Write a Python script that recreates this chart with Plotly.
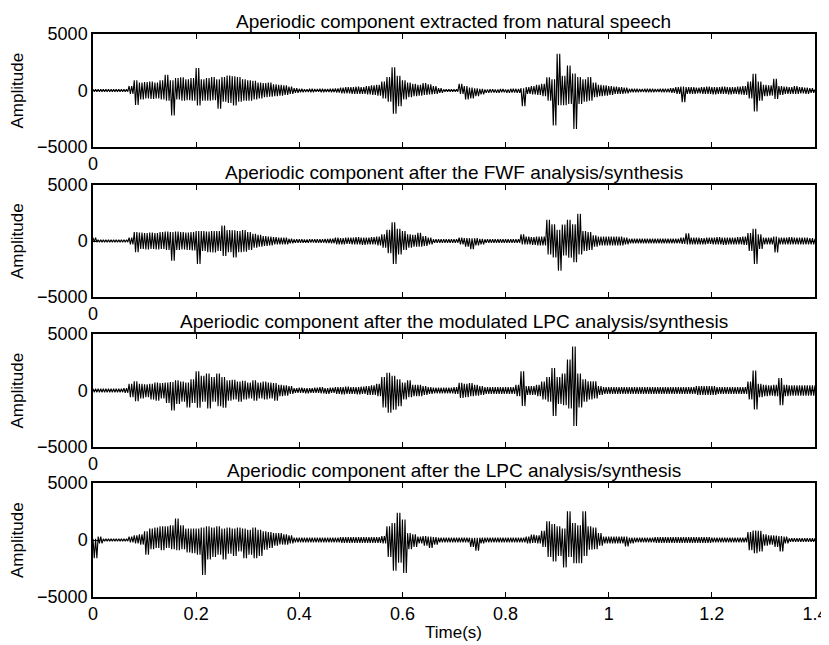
import plotly.graph_objects as go

# ---- data: per-10 ms envelope (max / min amplitude) ----
time_step = 0.01
n_bins = 141  # 0.00 .. 1.40 s

titles = [
    "Aperiodic component extracted from natural speech",
    "Aperiodic component after the FWF analysis/synthesis",
    "Aperiodic component after the modulated LPC analysis/synthesis",
    "Aperiodic component after the LPC analysis/synthesis",
]

natural_hi = [100, 100, 100, 100, 100, 100, 100,
              400, 900, 700, 750, 800, 700, 900, 1390, 900, 1100, 1180, 1000, 1100, 2000, 1000, 1100, 1200,
              1000, 1200, 1330, 1270, 1200, 1000, 900, 850, 700, 650, 700, 550, 500, 450, 350, 200,
              150, 120, 150, 130, 150, 140, 160, 180,
              250, 300, 300, 350, 300, 400, 450, 500, 800, 1200, 2060, 1300, 900, 700, 600, 500, 650, 550, 400, 200,
              100, 100, 120,
              600, 400, 250, 200, 150,
              100, 120, 100, 130, 100, 150, 150,
              200, 300, 400, 500, 600, 1180, 1000, 3250, 1300, 2200, 1500, 1200, 1000, 1200, 700, 500, 450, 400, 350, 300, 250,
              150, 150, 130, 150, 150, 140, 150, 160, 200,
              300, 350, 300,
              300, 250, 300, 350, 300, 300, 350, 300, 300, 350, 400,
              800, 1470, 800, 500, 450, 1030, 400, 350, 300, 400, 300, 250, 200, 100]
natural_lo = [-100, -100, -100, -100, -100, -100, -100,
              -300, -1270, -800, -700, -750, -700, -800, -900, -2200, -800, -900, -850, -900, -1330, -900, -900, -850,
              -1620, -1000, -1100, -1330, -1000, -900, -900, -800, -700, -600, -550, -500, -450, -400, -300, -200,
              -150, -130, -150, -120, -150, -140, -150, -180,
              -250, -250, -300, -300, -300, -350, -400, -450, -700, -1000, -2060, -1400, -800, -600, -500, -450, -400, -350, -300, -200,
              -100, -100, -100,
              -300, -800, -700, -500, -350,
              -200, -180, -200, -150, -200, -180, -200,
              -1400, -300, -350, -400, -500, -900, -3100, -1300, -1300, -1200, -3400, -1200, -1000, -900, -600, -500, -450, -400, -300, -300, -250,
              -150, -150, -140, -150, -150, -130, -150, -160, -200,
              -300, -1030, -300,
              -300, -250, -300, -300, -350, -300, -300, -350, -300, -350, -400,
              -700, -1860, -900, -500, -450, -740, -400, -300, -300, -300, -250, -300, -200, -100]

fwf_hi = [300, 100, 100, 100, 100, 100, 120,
          300, 800, 750, 700, 750, 700, 800, 850, 800, 850, 800, 750, 800, 880, 880, 850, 880, 900, 1380, 970,
          950, 900, 970, 800, 650, 550, 450, 400, 350, 300, 300,
          200, 150, 150, 130, 150, 150, 150, 180, 200,
          300, 250, 300, 300, 350, 300, 300, 350, 400,
          600, 1000, 1680, 1100, 900, 600, 550, 740, 450, 300,
          150, 150, 150, 150, 150,
          300, 250, 250, 250, 200,
          150, 150, 150, 150, 150, 150, 150,
          600, 400, 350, 400, 400, 1900, 1500, 1000, 1470, 1900, 1500, 2440, 880, 800, 500, 400, 400, 400, 400, 400, 300,
          200, 200, 200, 200, 200, 200, 200, 200, 200, 200,
          300, 680,
          300, 300, 250, 300, 300, 350, 300, 300, 300, 350, 400,
          700, 1100, 600, 300, 300, 400,
          300, 300, 350, 300, 300, 300, 250,
          200]
fwf_lo = [-100, -100, -100, -100, -100, -100, -100,
          -300, -1000, -700, -750, -700, -750, -700, -800, -1760, -800, -750, -800, -850, -2060, -900, -1000, -1030, -900, -1330, -1000,
          -1470, -1000, -950, -800, -600, -500, -450, -400, -300, -300, -300,
          -200, -150, -150, -150, -130, -150, -150, -180, -200,
          -300, -300, -250, -300, -300, -350, -300, -300, -400,
          -600, -1100, -2060, -1200, -800, -600, -500, -500, -450, -300,
          -150, -150, -150, -150, -150,
          -300, -500, -740, -400, -300,
          -150, -150, -150, -150, -150, -150, -150,
          -300, -300, -350, -400, -400, -1200, -1470, -2650, -1300, -1500, -1900, -1200, -880, -800, -500, -400, -400, -400, -400, -400, -300,
          -200, -200, -200, -200, -200, -200, -200, -200, -200, -200,
          -250, -300,
          -300, -300, -300, -250, -300, -300, -350, -300, -300, -300, -350,
          -900, -2060, -700, -300, -300, -1030,
          -300, -300, -300, -300, -300, -300, -300,
          -200]

mlpc_hi = [150, 150, 150, 150, 150, 150,
           200, 600, 820, 600, 550, 600, 700, 650, 700, 750, 900, 800, 700, 1000, 1700, 1300, 1500, 1200, 1500, 1200,
           900, 950, 800, 850, 700, 900, 700, 800, 700, 650, 500, 450, 400,
           200, 250, 200, 200, 250, 300, 200, 250,
           300, 300, 350, 300, 300, 350,
           400, 450, 600, 1200, 1560, 1300, 1000, 700, 900, 500, 500, 400, 300,
           250, 250, 250, 250,
           300, 680, 600, 650, 500, 400,
           300, 300, 300, 300, 300, 300,
           500, 1700, 400, 400, 500, 800, 1200, 2000, 1200, 1500, 2740, 3900, 1500, 1000, 820, 820, 400,
           300, 300, 300, 300, 300, 300, 300, 300, 300, 300, 300, 300, 300, 300, 300, 300, 300, 300,
           400, 400, 400, 400,
           300, 300, 300, 300, 300, 300,
           800, 1760, 600, 500, 450, 500, 1100, 500,
           450, 450, 450, 450, 450, 450]
mlpc_lo = [-150, -150, -150, -150, -150, -150,
           -200, -600, -940, -700, -600, -800, -900, -700, -1100, -1760, -1200, -1000, -1500, -1100, -1530, -1000, -1600, -1000, -1400, -1530,
           -900, -800, -1000, -800, -700, -900, -700, -800, -700, -900, -500, -450, -300,
           -200, -200, -250, -200, -200, -250, -300, -200,
           -300, -350, -300, -300, -350, -300,
           -400, -400, -500, -1500, -1970, -1700, -1400, -800, -600, -500, -500, -400, -300,
           -250, -250, -250, -250,
           -300, -650, -600, -500, -450, -400,
           -300, -300, -300, -300, -300, -300,
           -500, -1380, -400, -400, -500, -800, -1000, -2260, -1200, -1300, -1600, -3150, -1500, -1000, -800, -700, -400,
           -300, -300, -300, -300, -300, -300, -300, -300, -300, -300, -300, -300, -300, -300, -300, -300, -300, -300,
           -400, -400, -400, -400,
           -300, -300, -300, -300, -300, -300,
           -800, -1680, -600, -500, -450, -500, -1300, -500,
           -450, -450, -450, -450, -450, -450]

lpc_hi = [100, 300,
          100, 100, 100, 100, 100,
          300, 400, 500, 760, 1000, 1100, 1200, 1200, 1300, 1880, 1300, 1000, 1000, 1000, 1100, 1200, 1100, 1200,
          1000, 1100, 1000, 1100, 1000, 900, 1100, 900, 760, 700, 600, 600, 500, 400,
          200, 200, 200, 200, 200, 200, 200, 200, 200,
          250, 250, 250, 250, 250, 250, 250, 250,
          350, 1200, 1500, 2380, 1800, 600, 500, 300, 350, 300, 250,
          200, 200, 200, 200, 200, 200,
          200, 200, 200,
          200, 200, 200, 200, 200, 200, 200, 200,
          300, 470, 400, 800, 1650, 1400, 1200, 1000, 2530, 1500, 1300, 2530, 1200, 1100, 600,
          300, 300, 300, 300,
          300, 200,
          200, 200, 200, 200, 250, 250, 250, 250, 250, 250, 250, 250, 250, 250, 250, 200, 200, 200, 200, 200, 200, 200,
          700, 820, 800, 500, 400, 400, 350, 300,
          150, 150, 150, 150, 150, 150]
lpc_lo = [-1590, -300,
          -100, -100, -100, -100, -100,
          -200, -300, -400, -1300, -800, -700, -900, -700, -800, -900, -800, -1100, -1150, -1300, -3060, -1700, -1500, -1300,
          -1700, -1200, -1400, -1000, -1590, -1300, -1590, -1400, -850, -700, -500, -400, -400, -300,
          -200, -200, -200, -200, -200, -200, -200, -200, -200,
          -250, -250, -250, -250, -250, -250, -250, -250,
          -300, -1500, -2700, -2000, -2900, -800, -600, -300, -500, -700, -400,
          -200, -200, -200, -200, -200, -200,
          -600, -940, -300,
          -200, -200, -200, -200, -200, -200, -200, -200,
          -300, -250, -300, -600, -1500, -1880, -1400, -2400, -1500, -2030, -2030, -1400, -850, -800, -500,
          -300, -300, -300, -300,
          -560, -300,
          -200, -200, -200, -200, -250, -250, -250, -250, -250, -250, -250, -250, -250, -250, -250, -200, -200, -200, -200, -200, -200, -200,
          -900, -1150, -1000, -500, -400, -600, -1000, -300,
          -150, -150, -150, -150, -150, -150]

x_tick_vals = [0, 0.2, 0.4, 0.6, 0.8, 1.0, 1.2, 1.4]
x_tick_text = ["0", "0.2", "0.4", "0.6", "0.8", "1", "1.2", "1.4"]
y_tick_vals = [-5000, 0, 5000]
y_tick_text = ["\u22125000", "0", "5000"]

series = [(natural_hi, natural_lo), (fwf_hi, fwf_lo), (mlpc_hi, mlpc_lo), (lpc_hi, lpc_lo)]

# ---- layout geometry (pixels, in screenshot coordinates) ----
OFF = 8                      # page body margin offsets the figure by 8 px
W, H = 829 - OFF, 645 - OFF  # figure size that fits the visible window
x_left, x_right = 93 - OFF, 815 - OFF
panels_px = [(34 - OFF, 147 - OFF), (185 - OFF, 297 - OFF),
             (334 - OFF, 447 - OFF), (483 - OFF, 597 - OFF)]
FONT = "Liberation Sans, Arial, Helvetica, sans-serif"

fig = go.Figure()
layout = dict(
    width=W, height=H, margin=dict(l=0, r=0, t=0, b=0, pad=0, autoexpand=False),
    paper_bgcolor="white", plot_bgcolor="white", showlegend=False,
    font=dict(family=FONT, size=16, color="black"),
    annotations=[],
)

for k, ((hi, lo), (top, bot)) in enumerate(zip(series, panels_px), start=1):
    # each 10 ms bin is drawn as two swings between its read max and min
    xs, ys = [], []
    for i in range(n_bins):
        t = i * time_step
        q = time_step / 4
        xs += [t, t + q, t + 2 * q, t + 3 * q]
        ys += [hi[i], lo[i], hi[i], lo[i]]
    fig.add_trace(go.Scatter(x=xs, y=ys, mode="lines",
                             line=dict(color="black", width=1.1),
                             xaxis=f"x{k}", yaxis=f"y{k}", hoverinfo="skip"))
    dom_y = [1 - bot / H, 1 - top / H]
    ax_common = dict(showline=True, linecolor="black", linewidth=1.5, mirror="ticks",
                     ticks="inside", ticklen=5, tickwidth=1.2, tickcolor="black",
                     showgrid=False, zeroline=False,
                     tickfont=dict(family=FONT, size=18, color="black"))
    layout[f"xaxis{k}"] = dict(domain=[x_left / W, x_right / W], range=[0, 1.4],
                               anchor=f"y{k}", tickvals=x_tick_vals,
                               ticktext=x_tick_text if k == 4 else ["0"] + [""] * 7,
                               **ax_common)
    layout[f"yaxis{k}"] = dict(domain=dom_y, range=[-5000, 5000], anchor=f"x{k}",
                               tickvals=y_tick_vals, ticktext=y_tick_text, **ax_common)
    layout["annotations"].append(dict(
        text=titles[k - 1], xref="paper", yref="paper",
        x=(x_left + x_right) / 2 / W, y=1 - (top - 13) / H,
        xanchor="center", yanchor="middle", showarrow=False,
        font=dict(family=FONT, size=19, color="black")))
    layout["annotations"].append(dict(
        text="Amplitude", xref="paper", yref="paper",
        x=(17 - OFF) / W, y=1 - (top + bot) / 2 / H, textangle=-90,
        xanchor="center", yanchor="middle", showarrow=False,
        font=dict(family=FONT, size=17, color="black")))

layout["annotations"].append(dict(
    text="Time(s)", xref="paper", yref="paper",
    x=(x_left + x_right) / 2 / W, y=1 - (632 - OFF) / H,
    xanchor="center", yanchor="middle", showarrow=False,
    font=dict(family=FONT, size=17, color="black")))

fig.update_layout(**layout)
fig.write_html("out.html")
